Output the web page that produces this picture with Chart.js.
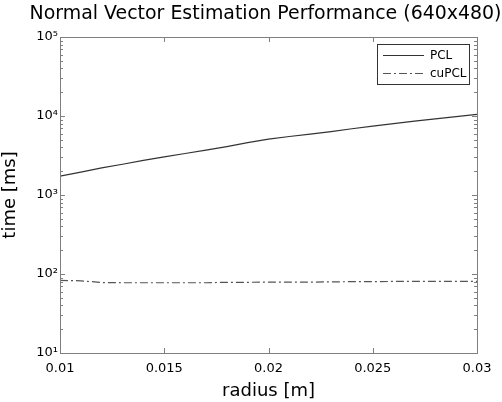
<!DOCTYPE html>
<html>
<head>
<meta charset="utf-8">
<script src="https://cdn.jsdelivr.net/npm/chart.js@4/dist/chart.umd.min.js"></script>
<style>
  html, body { margin: 0; padding: 0; background: #fff; }
  #wrap { width: 502px; height: 402px; }
</style>
</head>
<body>
<div id="wrap"><canvas id="perfChart" width="502" height="402"></canvas></div>
<script>
// values
const radius = [0.010, 0.011, 0.012, 0.013, 0.014, 0.015, 0.016, 0.017, 0.018, 0.019, 0.020,
                0.021, 0.022, 0.023, 0.024, 0.025, 0.026, 0.027, 0.028, 0.029, 0.030];
const pclTime = [1730, 1950, 2200, 2450, 2750, 3030, 3350, 3700, 4100, 4600, 5100,
                 5500, 5900, 6350, 6900, 7450, 8000, 8600, 9200, 9800, 10500];
const cupclTime = [83, 82, 78, 77.5, 77.5, 77.5, 77.5, 77.5, 78.5, 78.5, 79,
                   79, 79, 79.5, 80, 80, 80.5, 80.5, 80.5, 80.5, 80.5];
const xTicks = [0.01, 0.015, 0.02, 0.025, 0.03];
const yDecades = [10, 100, 1000, 10000, 100000];
const supers = { 1: "\u00b9", 2: "\u00b2", 3: "\u00b3", 4: "\u2074", 5: "\u2075" };
const chartTitle = "Normal Vector Estimation Performance (640x480)";

const FONT = "'DejaVu Sans', sans-serif";
const BOX = "#7f7f7f";

function toPoints(xs, ys) {
  return xs.map((x, i) => ({ x: x, y: ys[i] }));
}

// title over the axes (chart.js title would squeeze it to the plot width)
const topTitle = {
  id: "topTitle",
  afterDraw(chart) {
    const ctx = chart.ctx;
    const a = chart.chartArea;
    ctx.save();
    ctx.font = "19px " + FONT;
    ctx.fillStyle = "#000";
    ctx.textAlign = "center";
    ctx.textBaseline = "middle";
    ctx.fillText(chartTitle, (a.left + a.right) / 2 - 3, 14, 472);
    ctx.restore();
  }
};

// matlab style box + inward ticks
const boxTicks = {
  id: "boxTicks",
  afterDraw(chart) {
    const ctx = chart.ctx;
    const a = chart.chartArea;
    const xs = chart.scales.x;
    const ys = chart.scales.y;
    ctx.save();
    ctx.strokeStyle = BOX;
    ctx.lineWidth = 1;
    ctx.strokeRect(Math.round(a.left) + 0.5, Math.round(a.top) + 0.5,
                   Math.round(a.right - a.left), Math.round(a.bottom - a.top));
    ctx.beginPath();
    xTicks.forEach(v => {
      const px = Math.round(xs.getPixelForValue(v)) + 0.5;
      ctx.moveTo(px, a.bottom); ctx.lineTo(px, a.bottom - 5);
      ctx.moveTo(px, a.top); ctx.lineTo(px, a.top + 5);
    });
    yDecades.slice(0, -1).forEach(d => {
      for (let m = 1; m <= 9; m++) {
        const py = Math.round(ys.getPixelForValue(m * d)) + 0.5;
        const len = m === 1 ? 5 : 3;
        ctx.moveTo(a.left, py); ctx.lineTo(a.left + len, py);
        ctx.moveTo(a.right, py); ctx.lineTo(a.right - len, py);
      }
    });
    ctx.stroke();
    ctx.restore();
  }
};

// legend box inside the plot, top right
const insideLegend = {
  id: "insideLegend",
  afterDraw(chart) {
    const ctx = chart.ctx;
    const a = chart.chartArea;
    const bx = a.right - 100, by = a.top + 7, bw = 92, bh = 40;
    ctx.save();
    ctx.fillStyle = "#fff";
    ctx.fillRect(bx, by, bw, bh);
    ctx.strokeStyle = "#333";
    ctx.lineWidth = 1;
    ctx.strokeRect(Math.round(bx) + 0.5, Math.round(by) + 0.5, bw, bh);
    ctx.font = "12px " + FONT;
    ctx.textBaseline = "middle";
    chart.data.datasets.forEach((ds, i) => {
      const ly = Math.round(by + 11 + i * 18) + 0.5;
      ctx.strokeStyle = ds.borderColor;
      ctx.setLineDash(ds.borderDash || []);
      ctx.beginPath();
      ctx.moveTo(bx + 6, ly); ctx.lineTo(bx + 47, ly);
      ctx.stroke();
      ctx.setLineDash([]);
      ctx.fillStyle = "#000";
      ctx.fillText(ds.label, bx + 53, ly);
    });
    ctx.restore();
  }
};

new Chart(document.getElementById("perfChart"), {
  type: "line",
  data: {
    datasets: [
      {
        label: "PCL",
        data: toPoints(radius, pclTime),
        borderColor: "#333333",
        borderWidth: 1.2,
        pointRadius: 0,
        tension: 0
      },
      {
        label: "cuPCL",
        data: toPoints(radius, cupclTime),
        borderColor: "#555555",
        borderWidth: 1.2,
        borderDash: [8, 3, 2, 3],
        pointRadius: 0,
        tension: 0
      }
    ]
  },
  options: {
    responsive: false,
    animation: false,
    layout: { padding: { left: 0, right: 25, top: 37, bottom: 0 } },
    plugins: {
      legend: { display: false },
      tooltip: { enabled: false },
      title: { display: false }
    },
    scales: {
      x: {
        type: "linear",
        min: 0.01,
        max: 0.03,
        afterBuildTicks(scale) {
          scale.ticks = xTicks.map(v => ({ value: v }));
        },
        afterFit(scale) { scale.height = 49; },
        grid: { display: false },
        border: { display: false },
        ticks: {
          color: "#000",
          padding: 0,
          maxRotation: 0,
          font: { family: FONT, size: 13 },
          callback: v => String(+v.toFixed(3))
        },
        title: {
          display: true,
          text: "radius [m]",
          color: "#000",
          font: { family: FONT, size: 18 },
          padding: { top: 0, bottom: 0 }
        }
      },
      y: {
        type: "logarithmic",
        min: 10,
        max: 100000,
        afterBuildTicks(scale) {
          scale.ticks = yDecades.map(v => ({ value: v }));
        },
        afterFit(scale) { scale.width = 60; },
        grid: { display: false },
        border: { display: false },
        ticks: {
          color: "#000",
          padding: -6,
          font: { family: FONT, size: 13 },
          callback: v => "10" + supers[Math.round(Math.log10(v))]
        },
        title: {
          display: true,
          text: "time [ms]",
          color: "#000",
          font: { family: FONT, size: 18 },
          padding: { top: 0, bottom: 0 }
        }
      }
    }
  },
  plugins: [boxTicks, insideLegend, topTitle]
});
</script>
</body>
</html>
